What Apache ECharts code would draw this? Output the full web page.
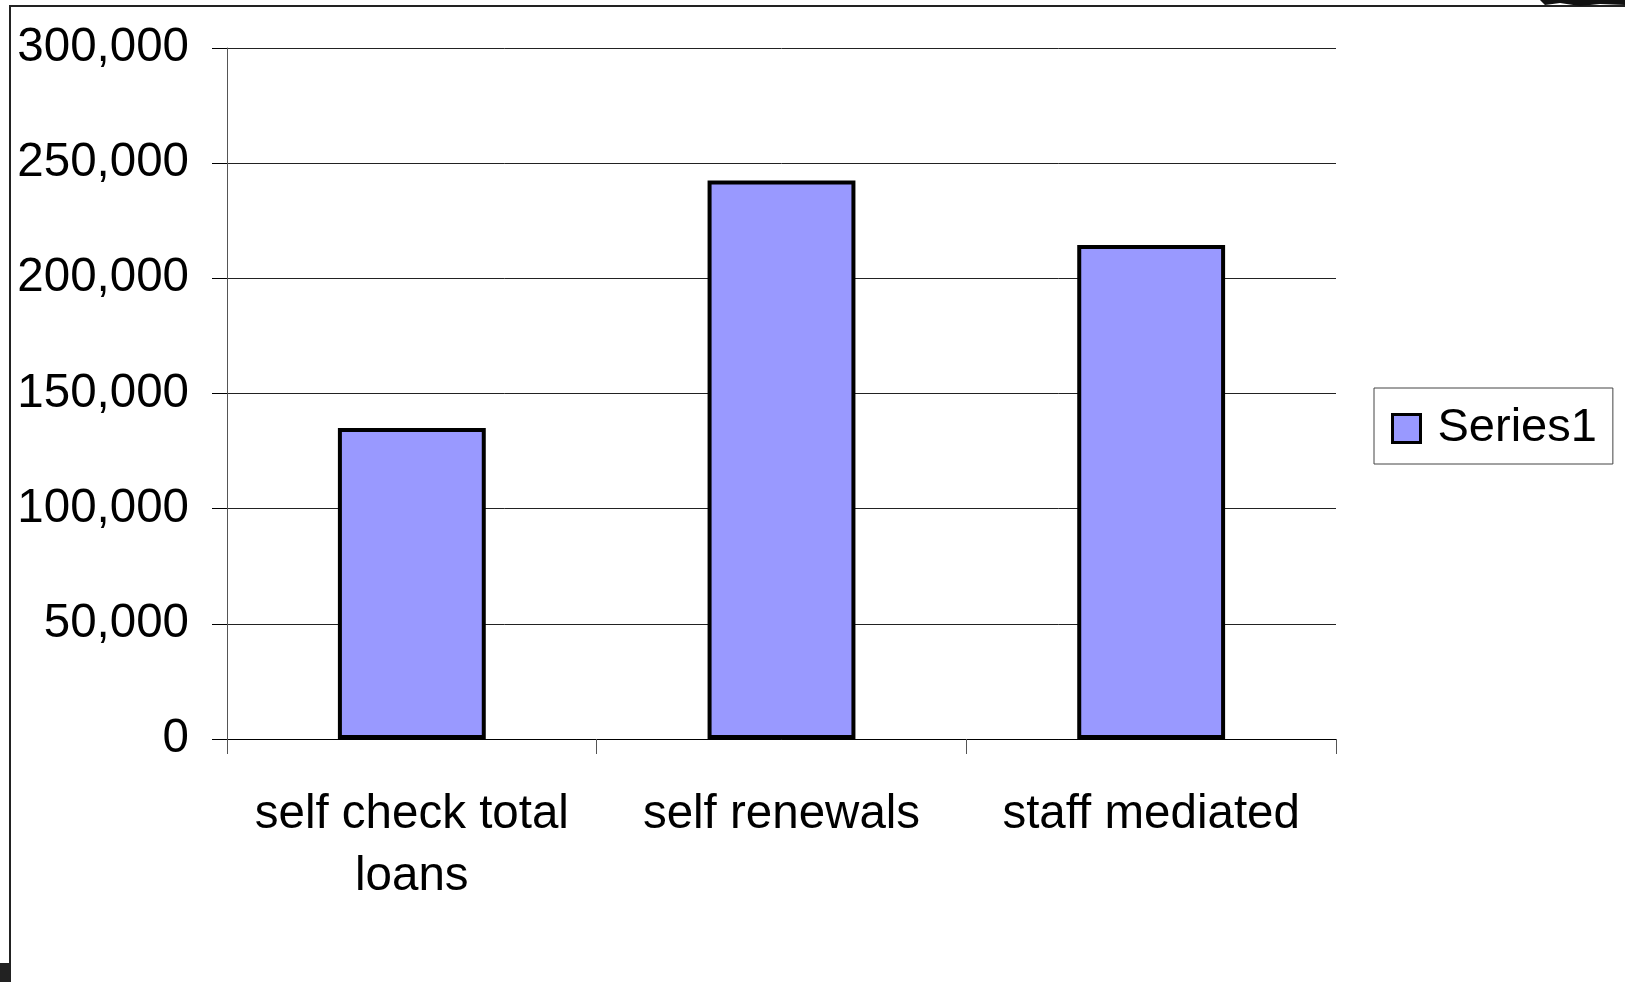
<!DOCTYPE html>
<html>
<head>
<meta charset="utf-8">
<script src="https://cdn.jsdelivr.net/npm/echarts@6/dist/echarts.min.js"></script>
<style>
html,body{margin:0;padding:0;background:#fff;}
#chart{width:1625px;height:982px;}
</style>
</head>
<body>
<div id="chart"></div>
<script>
const categories = ['self check total\nloans', 'self renewals', 'staff mediated'];
const seriesName = 'Series1';
const values = [135000, 242500, 214500];
const yTicks = [0, 50000, 100000, 150000, 200000, 250000, 300000];

const chart = echarts.init(document.getElementById('chart'));
const font = 'Liberation Sans, Arial, sans-serif';
chart.setOption({
  backgroundColor: '#fff',
  animation: false,
  grid: { left: 227, right: 289, top: 48, bottom: 243, containLabel: false },
  legend: {
    orient: 'vertical',
    left: 1374, top: 388,
    padding: [17, 16, 12, 17],
    borderColor: '#444', borderWidth: 1,
    itemWidth: 28, itemHeight: 28,
    icon: 'rect',
    itemStyle: { borderColor: '#000', borderWidth: 3 },
    textStyle: { fontFamily: font, fontSize: 47, color: '#000', padding: [0, 0, 0, 12] },
    data: [seriesName]
  },
  xAxis: {
    type: 'category',
    data: categories,
    axisLine: { lineStyle: { color: '#000', width: 1 } },
    axisTick: { show: true, length: 15, lineStyle: { color: '#555' } },
    axisLabel: { fontFamily: font, fontSize: 47.5, color: '#000', margin: 45, lineHeight: 62, interval: 0 }
  },
  yAxis: {
    type: 'value',
    min: yTicks[0], max: yTicks[yTicks.length - 1], interval: yTicks[1] - yTicks[0],
    axisLine: { show: true, lineStyle: { color: '#555', width: 1 } },
    axisTick: { show: true, length: 15, lineStyle: { color: '#000' } },
    splitLine: { lineStyle: { color: '#222', width: 1 } },
    axisLabel: {
      fontFamily: font, fontSize: 47.5, color: '#000', margin: 38, padding: [10, 0, 0, 0],
      formatter: v => v.toLocaleString('en-US')
    }
  },
  series: [{
    name: seriesName,
    type: 'bar',
    data: values,
    barWidth: '40%',
    itemStyle: { color: '#9999FF', borderColor: '#000', borderWidth: 4 }
  }],
  graphic: [
    { type: 'polyline', shape: { points: [[10, 990], [10, 6], [1630, 6]] }, style: { stroke: '#222', lineWidth: 2, fill: null } },
    { type: 'rect', shape: { x: 0, y: 963, width: 9, height: 19 }, style: { fill: '#222' } },
    { type: 'polygon', shape: { points: [[1540, 0], [1625, 0], [1625, 5], [1600, 4], [1580, 6], [1560, 3], [1545, 5]] }, style: { fill: '#111' } }
  ]
});
</script>
</body>
</html>
